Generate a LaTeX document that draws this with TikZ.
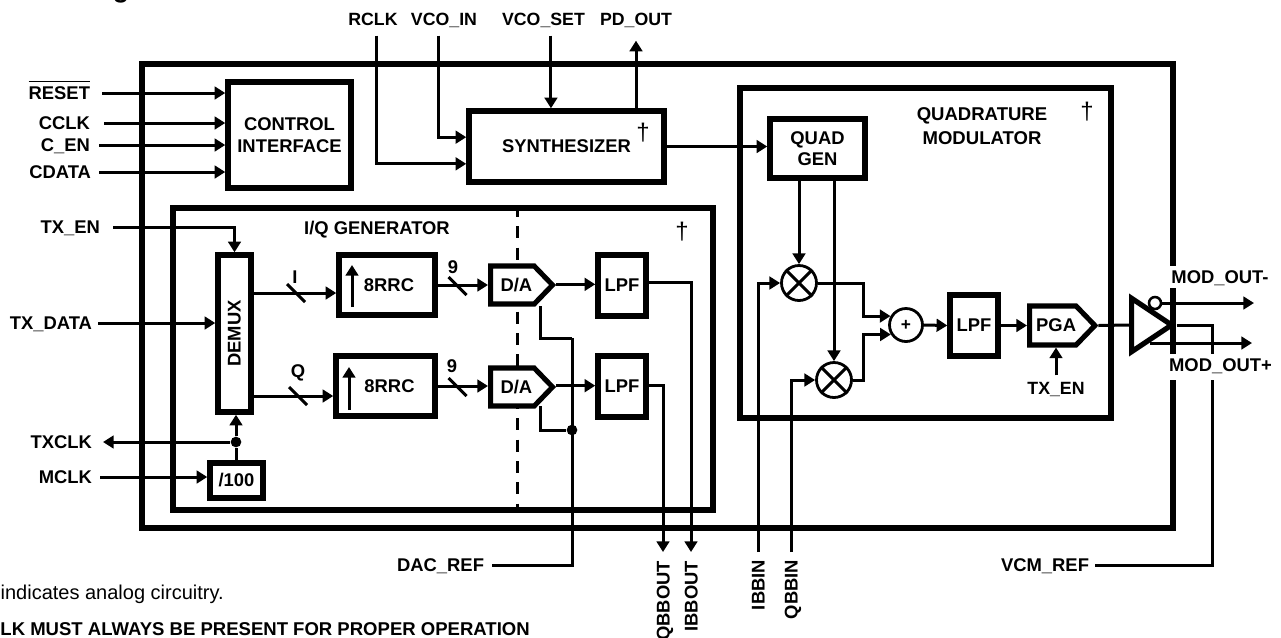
\documentclass[tikz,border=0pt]{standalone}
\usepackage{fontspec}
\setmainfont{Liberation Sans}
\usetikzlibrary{arrows.meta,shapes.geometric,shapes.symbols}

\tikzset{
    wire/.style={line width=2.25pt},
    wirearrow/.style={wire,-{Triangle[length=8pt,width=9.5pt]}},
    chipbox/.style 2 args={draw,line width=4.5pt,inner sep=0pt,minimum width=#1*0.75pt,minimum height=#2*0.75pt},
    blockbox/.style 2 args={draw,fill=white,line width=4.1pt,inner sep=0pt,align=center,font=\bfseries\fontsize{13.8}{15.7}\selectfont,minimum width=#1*0.75pt,minimum height=#2*0.75pt},
    datapent/.style 2 args={signal,signal to=east,signal from=nowhere,signal pointer angle=92,draw,fill=white,line width=3.8pt,inner sep=0pt,anchor=west,font=\bfseries\fontsize{13.8}{15.7}\selectfont,minimum width=#1*0.75pt,minimum height=#2*0.75pt},
    mixer/.style={circle,draw,fill=white,line width=2.1pt,inner sep=0pt,minimum size=#1*0.75pt},
    dotnode/.style={circle,fill=black,inner sep=0pt,minimum size=8pt},
    plaintext/.style={inner sep=0pt,font=\bfseries\fontsize{13.8}{15.7}\selectfont,text height=10pt,text depth=0pt,align=center},
    pinleft/.style={plaintext,anchor=east,outer xsep=#1*0.75pt},
    pinup/.style={plaintext,font=\bfseries\fontsize{13.3}{15.7}\selectfont,outer ysep=#1*0.75pt},
    pindown/.style={plaintext,rotate=90,anchor=east,outer xsep=#1*0.75pt},
    daggerlabel/.style={inner sep=0pt,font=\fontsize{18}{20}\selectfont},
    outlabel/.style={plaintext,fill=white,inner xsep=2.25pt,inner ysep=3.1pt},
}

\begin{document}
\begin{tikzpicture}[x=0.75pt,y=0.75pt,yscale=-1,xscale=1]
    \useasboundingbox (0,0) rectangle (1281,637);

    % Containers
    \node[chipbox={1031}{464}] (chip) at (657.5,296) {};
    \node[chipbox={540}{302}] (iqgen) at (443,359) {};
    \node[chipbox={371}{330}] (qmod) at (925.5,253) {};
    \coordinate (split) at (517,359);
    \draw [line width=2.25pt,dash pattern=on 9pt off 7pt] (split |- iqgen.north) -- (split |- iqgen.south);

    % Blocks
    \node[blockbox={123}{106}] (ctrl) at (289.5,135) {CONTROL\\[1pt]INTERFACE};
    \node[blockbox={195}{71}] (synth) at (566.5,146.5) {SYNTHESIZER};
    \node[blockbox={95}{59}] (qgen) at (817.5,148.5) {QUAD\\GEN};
    \node[blockbox={33}{157}] (demux) at (234.5,333.5) {\rotatebox{90}{DEMUX}};
    \node[blockbox={96}{60}] (rrci) at (387,285) {\hspace{3pt}8RRC};
    \node[blockbox={99}{60}] (rrcq) at (385.5,386) {\hspace{6pt}8RRC};
    \node[blockbox={53}{35}] (divider) at (236.5,480.5) {/100};
    \node[blockbox={48}{61}] (lpfi) at (622,285.5) {LPF};
    \node[blockbox={48}{61}] (lpfq) at (622,386.5) {LPF};
    \node[blockbox={48}{61}] (lpfm) at (974,325.5) {LPF};
    \node[datapent={62}{38}] (dai) at (488,285) {\hspace{6pt}D/A};
    \node[datapent={62}{38}] (daq) at (488,387) {\hspace{6pt}D/A};
    \node[datapent={64}{39}] (pga) at (1027,325.5) {\hspace{5pt}PGA};

    % Mixers and summer
    \node[mixer=35] (mxi) at (799,283) {};
    \node[mixer=35] (mxq) at (834,380) {};
    \node[mixer=33,font=\bfseries\fontsize{13}{15.5}\selectfont] (sum) at (906,325) {+};
    \draw [wire] (mxi.north west) -- (mxi.south east) (mxi.north east) -- (mxi.south west);
    \draw [wire] (mxq.north west) -- (mxq.south east) (mxq.north east) -- (mxq.south west);

    % Output amplifier
    \node[isosceles triangle,isosceles triangle apex angle=62,isosceles triangle stretches,draw,fill=white,line width=3.9pt,inner sep=0pt,anchor=lower side,minimum width=40pt,minimum height=30pt] (amp) at (1129,325) {};

    % Pin labels
    \node[pinleft=12] (reset) at (102,93) {$\overline{\mbox{RESET}\rule{0pt}{12.5pt}}$};
    \node[pinleft=14] (cclk) at (104,123) {CCLK};
    \node[pinleft=9] (cen) at (99,145) {C\_EN};
    \node[pinleft=8] (cdata) at (99,172) {CDATA};
    \node[pinleft=13] (txen) at (113,227) {TX\_EN};
    \node[pinleft=6] (txdata) at (98,323) {TX\_DATA};
    \node[pinleft=11] (txclk) at (103,442) {TXCLK};
    \node[pinleft=8] (mclk) at (100,477) {MCLK};
    \node[pinleft=8] (dacref) at (492,565) {DAC\_REF};
    \node[pinleft=6] (vcmref) at (1095,565) {VCM\_REF};
    \node[pinup=10] (rclk) at (373,19) {RCLK};
    \node[pinup=10] (vcoin) at (444,19) {VCO\_IN};
    \node[pinup=10] (vcoset) at (543.5,19) {VCO\_SET};
    \node[pinup=15] (pdout) at (636,19) {PD\_OUT};
    \node[pinup=6] (txenm) at (1056,388) {TX\_EN};
    \node[pindown=9] (qbbout) at (663,552) {QBBOUT};
    \node[pindown=9] (ibbout) at (691,552) {IBBOUT};
    \node[pindown=8] (ibbin) at (758,552) {IBBIN};
    \node[pindown=8] (qbbin) at (791,552) {QBBIN};

    % Text Node
    \node[plaintext] (iqtitle) at (377,228) {I/Q GENERATOR};
    \node[plaintext,text height=,text depth=,font=\bfseries\fontsize{13.9}{18}\selectfont] (qmtitle) at (982,126) {QUADRATURE\\MODULATOR};
    \node[plaintext] (ilabel) at (295,277) {I};
    \node[plaintext] (qlabel) at (298,371) {Q};
    \node[plaintext] (nine) at (453,267) {9};
    \node[plaintext] (nineq) at (452,366) {9};
    \node[daggerlabel] (dagsynth) at (643,133) {\textdagger};
    \node[daggerlabel] (dagiq) at (682,232) {\textdagger};
    \node[daggerlabel] (dagqm) at (1087,112) {\textdagger};
    \node[inner sep=0pt,anchor=east,font=\fontsize{15}{18}\selectfont] (notea) at (224,594) {indicates analog circuitry.};
    \node[inner sep=0pt,anchor=east,font=\bfseries\fontsize{13.9}{16}\selectfont] (noteb) at (530,629) {LK MUST ALWAYS BE PRESENT FOR PROPER OPERATION};
    \node[inner sep=0pt,anchor=base,font=\bfseries\fontsize{20}{24}\selectfont] (headg) at (121,-3) {g};

    % Control and synthesizer wires
    \foreach \pin in {reset,cclk,cen,cdata}
        \draw [wirearrow] (\pin.east) -- (\pin.east -| ctrl.west);
    \draw [wirearrow] ([xshift=2.25pt]rclk.south) |- ([yshift=13pt]synth.west);
    \draw [wirearrow] ([xshift=-4.5pt]vcoin.south) |- ([yshift=-7pt]synth.west);
    \draw [wirearrow] ([xshift=5.6pt]vcoset.south) -- ([xshift=5.6pt]vcoset.south |- synth.north);
    \draw [wirearrow] (pdout.south |- synth.north) -- (pdout.south);
    \draw [wirearrow] (synth.east) -- (synth.east -| qgen.west);

    % I/Q generator wires
    \coordinate (itap) at (254,293);
    \coordinate (qtap) at (254,396);
    \node[dotnode] (clkdot) at (236,442) {};
    \node[dotnode] (refdot) at (572,430) {};
    \coordinate (refcorner) at (572,338);
    \coordinate (iup) at (352,307);
    \coordinate (qup) at (349,410);
    \draw [wirearrow] (txen.east) -| (demux.north);
    \draw [wirearrow] (txdata.east) -- (txdata.east -| demux.west);
    \draw [wirearrow] (itap) -- (itap -| rrci.west);
    \draw [wirearrow] (qtap) -- (qtap -| rrcq.west);
    \draw [wirearrow] (iup) -- ++(0,-42);
    \draw [wirearrow] (qup) -- ++(0,-43);
    \draw [wirearrow] (rrci.east) -- (rrci.east -| dai.west);
    \draw [wirearrow] (rrcq.east) -- (rrcq.east -| daq.west);
    \draw [wirearrow] ([yshift=-0.5pt]dai.east) -- ([yshift=-0.5pt]dai.east -| lpfi.west);
    \draw [wirearrow] ([yshift=-1pt]daq.east) -- ([yshift=-1pt]daq.east -| lpfq.west);
    \draw [wirearrow] ([yshift=-2pt]lpfi.east) -| (ibbout.east);
    \draw [wirearrow] ([yshift=-1pt]lpfq.east) -| (qbbout.east);
    \draw [wire] (divider.north -| clkdot) -- (clkdot);
    \draw [wirearrow] (clkdot) -- (clkdot |- demux.south);
    \draw [wirearrow] (clkdot) -- (txclk.east);
    \draw [wirearrow] (mclk.east) -- (mclk.east -| divider.west);
    \draw [wire] (dacref.east) -| (refcorner);
    \draw [wire] (refcorner) -- ++(-32,0) -- ++(0,-32);
    \draw [wire] (refdot) -- ++(-32,0) -- ++(0,-24);
    \foreach \mx/\my in {296/293,298/396,457.5/286,457.5/387}
        \draw [wire] (\mx,\my) ++(-9,-9) -- ++(18,18);

    % Modulator wires
    \draw [wirearrow] (qgen.south -| mxi) -- (mxi.north);
    \draw [wirearrow] (qgen.south -| mxq) -- (mxq.north);
    \draw [wirearrow] (ibbin.east) |- (mxi.west);
    \draw [wirearrow] (qbbin.east) |- (mxq.west);
    \draw [wirearrow] (mxi.east) -- ++(46,0) |- (sum.150);
    \draw [wirearrow] (mxq.east) -- ++(11,0) |- (sum.212);
    \draw [wirearrow] (sum.east) -- (lpfm.west);
    \draw [wirearrow] (lpfm.east) -- (pga.west);
    \draw [wirearrow] (txenm.north) -- (txenm.north |- pga.south);
    \draw [wire] (pga.east) -- (amp.lower side);

    % Output wires
    \node[circle,draw,fill=white,line width=1.9pt,inner sep=0pt,minimum size=9pt] (bubble) at (1155,303) {};
    \coordinate (outn) at (1254,303);
    \coordinate (outpstart) at (1150,343);
    \coordinate (outp) at (1252,343);
    \coordinate (vcmtap) at (1212,325);
    \draw [wirearrow] (bubble.east) -- (outn);
    \draw [wirearrow] (outpstart) -- (outp);
    \draw [wire] (vcmref.east) -| (vcmtap) -- (amp.apex);

    % Labels that break the lines behind them
    \node[outlabel] (modn) at (1220,277) {MOD\_OUT-};
    \node[outlabel,text depth=3pt] (modp) at (1220.5,367) {MOD\_OUT+};
\end{tikzpicture}
\end{document}
